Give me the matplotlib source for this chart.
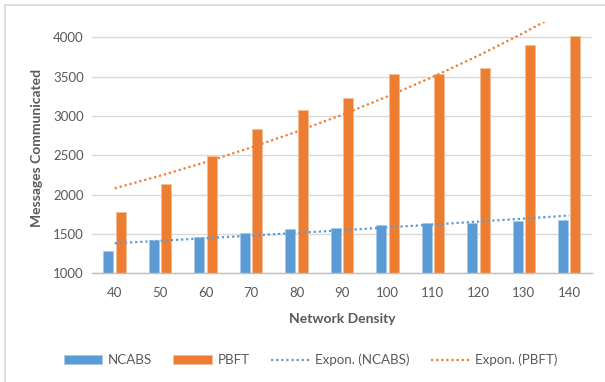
import numpy as np
import matplotlib
matplotlib.use("Agg")
import matplotlib.pyplot as plt
from matplotlib.patches import Rectangle

plt.rcParams['font.family'] = ['Lato', 'DejaVu Sans']

# data
densities = [40, 50, 60, 70, 80, 90, 100, 110, 120, 130, 140]
ncabs = [1290, 1430, 1460, 1510, 1560, 1580, 1620, 1640, 1645, 1670, 1680]
pbft = [1780, 2140, 2490, 2830, 3080, 3230, 3530, 3530, 3610, 3900, 4020]

blue = '#5B9BD5'
orange = '#ED7D31'
text_gray = '#595959'

fig = plt.figure(figsize=(6.05, 3.82), dpi=100)
ax = fig.add_axes([0.152, 0.2845, 0.8265, 0.6585])

x = np.arange(len(densities))
w = 0.22
off = 0.137
ax.bar(x - off, ncabs, w, color=blue, edgecolor='#A9C9EA', linewidth=0.6, label='NCABS', zorder=3)
ax.bar(x + off, pbft, w, color=orange, edgecolor='#F6BE98', linewidth=0.6, label='PBFT', zorder=3)

# exponential trendlines (Excel style, x = 1..n)
xi = np.arange(1, len(densities) + 1)
for vals, col, name in [(ncabs, blue, 'Expon. (NCABS)'), (pbft, orange, 'Expon. (PBFT)')]:
    b, lna = np.polyfit(xi, np.log(vals), 1)
    trend = np.exp(lna) * np.exp(b * xi)
    ax.plot(x, trend, color=col, linestyle=(0, (1, 1.3)), linewidth=1.6, label=name, zorder=4)

ax.set_ylim(1000, 4200)
ax.set_xlim(-0.5, 10.5)
ax.set_yticks(range(1000, 4001, 500))
ax.set_xticks(x)
ax.set_xticklabels([str(d) for d in densities])
ax.tick_params(length=0, labelsize=9.5, colors=text_gray, pad=6)
ax.tick_params(axis='x', pad=10)
ax.grid(axis='y', color='#D9D9D9', linewidth=1, zorder=0)
for s in ['top', 'right', 'left']:
    ax.spines[s].set_visible(False)
ax.spines['bottom'].set_color('#BFBFBF')
ax.spines['bottom'].set_linewidth(1)
ax.spines['bottom'].set_zorder(5)

ax.set_xlabel('Network Density', fontsize=10, fontweight='bold', color=text_gray, labelpad=10)
ax.set_ylabel('Messages Communicated', fontsize=10, fontweight='bold', color=text_gray, labelpad=7)

handles, labels = ax.get_legend_handles_labels()
order = [2, 3, 0, 1]
handles = [handles[i] for i in order]
labels = [labels[i] for i in order]
fig.legend(handles, labels, loc='center', bbox_to_anchor=(0.513, 0.058), ncol=4, frameon=False,
           fontsize=9.6, labelcolor=text_gray, handlelength=2.9, handleheight=0.6,
           columnspacing=1.6, handletextpad=0.4)

# outer chart border
fig.patches.append(Rectangle((4.5 / 605, -0.1), 1.2, 1 - 4.5 / 382 + 0.1, transform=fig.transFigure,
                             fill=False, edgecolor='#D9D9D9', linewidth=1.2))

fig.savefig('out.png', dpi=100)
